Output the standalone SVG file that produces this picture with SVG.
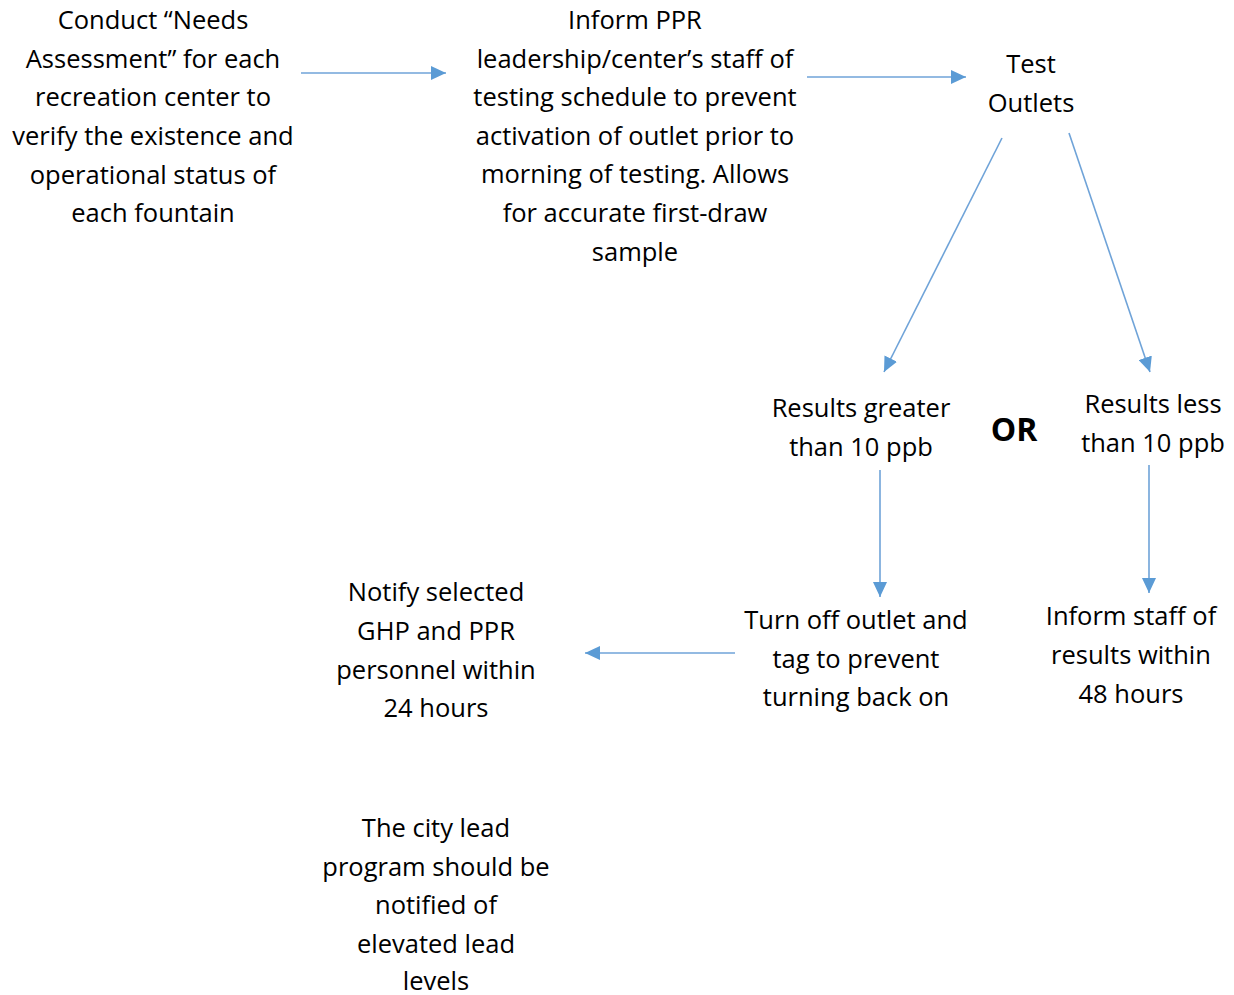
<svg xmlns="http://www.w3.org/2000/svg" width="1234" height="995" viewBox="0 0 1234 995">
<style>
text{font-family:"Open Sans","Liberation Sans",sans-serif;font-size:25.5px;fill:#000;text-anchor:middle}
.or{font-weight:bold;font-size:32px}
.c{stroke:#6fa3d8;stroke-width:1.6;fill:none}
</style>
<defs>
<marker id="ah" viewBox="0 0 15 14" refX="15" refY="7" markerWidth="15" markerHeight="14" markerUnits="userSpaceOnUse" orient="auto">
<path d="M0,0 L15,7 L0,14 Z" fill="#5b9bd5"/>
</marker>
</defs>
<rect width="1234" height="995" fill="#fff"/>
<g id="connectors">
<line class="c" x1="301" y1="73" x2="446" y2="73" marker-end="url(#ah)"/>
<line class="c" x1="807" y1="77" x2="966" y2="77" marker-end="url(#ah)"/>
<line class="c" x1="1002" y1="138" x2="884" y2="372" marker-end="url(#ah)"/>
<line class="c" x1="1069" y1="133" x2="1150" y2="372" marker-end="url(#ah)"/>
<line class="c" x1="880" y1="470" x2="880" y2="597" marker-end="url(#ah)"/>
<line class="c" x1="1149" y1="465" x2="1149" y2="593" marker-end="url(#ah)"/>
<line class="c" x1="735" y1="653" x2="585" y2="653" marker-end="url(#ah)"/>
</g>
<g id="n1">
<text x="153" y="29">Conduct “Needs</text>
<text x="153" y="68">Assessment” for each</text>
<text x="153" y="106">recreation center to</text>
<text x="153" y="145">verify the existence and</text>
<text x="153" y="184">operational status of</text>
<text x="153" y="222">each fountain</text>
</g>
<g id="n2">
<text x="635" y="29">Inform PPR</text>
<text x="635" y="68">leadership/center’s staff of</text>
<text x="635" y="106">testing schedule to prevent</text>
<text x="635" y="145">activation of outlet prior to</text>
<text x="635" y="183">morning of testing. Allows</text>
<text x="635" y="222">for accurate first-draw</text>
<text x="635" y="261">sample</text>
</g>
<g id="n3">
<text x="1031" y="73">Test</text>
<text x="1031" y="112">Outlets</text>
</g>
<g id="n4">
<text x="861" y="417">Results greater</text>
<text x="861" y="456">than 10 ppb</text>
</g>
<g id="or">
<text class="or" x="1014" y="441">OR</text>
</g>
<g id="n5">
<text x="1153" y="413">Results less</text>
<text x="1153" y="452">than 10 ppb</text>
</g>
<g id="n6">
<text x="436" y="601">Notify selected</text>
<text x="436" y="640">GHP and PPR</text>
<text x="436" y="679">personnel within</text>
<text x="436" y="717">24 hours</text>
</g>
<g id="n7">
<text x="856" y="629">Turn off outlet and</text>
<text x="856" y="668">tag to prevent</text>
<text x="856" y="706">turning back on</text>
</g>
<g id="n8">
<text x="1131" y="625">Inform staff of</text>
<text x="1131" y="664">results within</text>
<text x="1131" y="703">48 hours</text>
</g>
<g id="n9">
<text x="436" y="837">The city lead</text>
<text x="436" y="876">program should be</text>
<text x="436" y="914">notified of</text>
<text x="436" y="953">elevated lead</text>
<text x="436" y="990">levels</text>
</g>
</svg>
